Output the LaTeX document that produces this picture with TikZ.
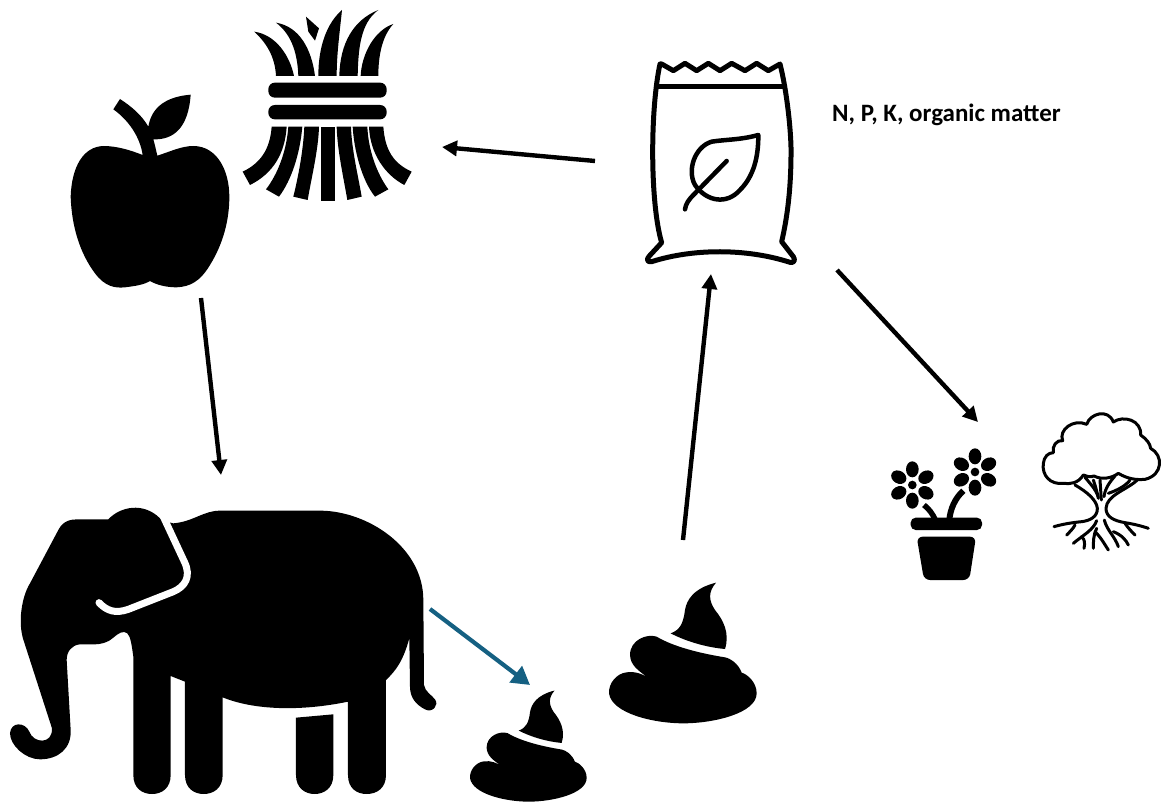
\documentclass[tikz,border=0pt]{standalone}
\usepackage{fontspec}
\setmainfont{Carlito}
\usetikzlibrary{arrows.meta}
\definecolor{arrowblue}{HTML}{156082}
\tikzset{
  icon/.style={fill=black,draw=none},
  flow/.style={line width=4.4pt,draw=black,-{Triangle[length=15pt,width=15pt]}},
  flowblue/.style={line width=4.2pt,draw=arrowblue,-{Triangle[length=18pt,width=20pt]}},
  bagline/.style={draw=black,line width=5pt,line join=round,line cap=round},
  leafline/.style={draw=black,line width=4.5pt,line join=round,line cap=round},
  treeline/.style={draw=black,line width=3pt,line join=round,line cap=round},
  gapline/.style={draw=white,line width=7pt,line cap=round,line join=round},
}
\newcommand{\poopshape}{%
  \fill (768,38) .. controls (700,55) and (680,90) .. (675,120) .. controls (670,160) and (660,180) .. (632,190)
    .. controls (680,215) and (740,232) .. (795,237) .. controls (810,190) and (790,150) .. (765,120)
    .. controls (745,90) and (745,65) .. (768,38) -- cycle;
  \fill (590,200) .. controls (560,190) and (510,210) .. (510,255) .. controls (512,285) and (530,300) .. (575,330)
    .. controls (550,312) and (525,303) .. (500,307) .. controls (470,310) and (445,340) .. (447,370)
    .. controls (455,430) and (580,460) .. (670,460) .. controls (760,460) and (890,430) .. (890,370)
    .. controls (890,335) and (860,312) .. (845,308) .. controls (835,280) and (810,265) .. (795,262)
    .. controls (720,250) and (640,230) .. (590,200) -- cycle;
}
\begin{document}
\begin{tikzpicture}[x=1pt,y=-1pt]
\useasboundingbox (0,0) rectangle (1162,805);

% Apple and wheat
\begin{scope}[shift={(60,0)},scale=1/3]
  \fill (248,465) .. controls (210,450) and (170,438) .. (130,438)
    .. controls (70,440) and (35,500) .. (32,590)
    .. controls (35,680) and (60,760) .. (105,820)
    .. controls (135,860) and (165,865) .. (195,862)
    .. controls (225,858) and (250,855) .. (270,843)
    .. controls (290,855) and (320,862) .. (350,862)
    .. controls (390,860) and (420,845) .. (450,795)
    .. controls (490,730) and (508,660) .. (508,590)
    .. controls (508,510) and (470,438) .. (400,438)
    .. controls (365,438) and (330,455) .. (292,467)
    .. controls (288,450) and (285,435) .. (280,418)
    .. controls (340,420) and (385,385) .. (392,284)
    .. controls (320,290) and (275,320) .. (265,380)
    .. controls (245,345) and (215,320) .. (180,297)
    -- (160,328)
    .. controls (205,360) and (240,410) .. (248,465) -- cycle;
  % blades
  \fill (583,95) .. controls (650,105) and (690,170) .. (702,228) -- (648,228) .. controls (645,170) and (620,130) .. (583,95) -- cycle;
  \fill (648,68) .. controls (720,80) and (755,150) .. (765,228) -- (715,228) .. controls (712,150) and (690,100) .. (648,68) -- cycle;
  \fill (738,50) -- (777,85) -- (765,122) -- (745,95) -- cycle;
  \fill (846,30) .. controls (840,90) and (830,160) .. (830,228) -- (775,228) .. controls (775,140) and (800,70) .. (846,30) -- cycle;
  \fill (955,30) .. controls (900,70) and (895,150) .. (893,228) -- (838,228) .. controls (840,130) and (880,60) .. (955,30) -- cycle;
  \fill (1000,72) .. controls (965,110) and (955,170) .. (955,228) -- (902,228) .. controls (905,160) and (945,90) .. (1000,72) -- cycle;
  \fill[rounded corners=6.5pt] (625,248) rectangle (980,293);
  \fill[rounded corners=6.5pt] (625,315) rectangle (980,358);
  % strands
  \fill (635,380) -- (680,380) .. controls (675,460) and (640,520) .. (570,555) -- (548,515) .. controls (600,490) and (630,450) .. (635,380) -- cycle;
  \fill (685,380) -- (727,380) .. controls (720,460) and (695,540) .. (657,590) -- (618,568) .. controls (655,520) and (680,450) .. (685,380) -- cycle;
  \fill (733,380) -- (777,380) .. controls (775,450) and (755,530) .. (743,600) -- (700,590) .. controls (715,530) and (730,450) .. (733,380) -- cycle;
  \fill (782,380) -- (825,380) -- (825,602) -- (782,602) -- cycle;
  \fill (830,380) -- (873,380) .. controls (875,450) and (895,530) .. (905,590) -- (862,600) .. controls (850,530) and (832,450) .. (830,380) -- cycle;
  \fill (878,380) -- (922,380) .. controls (925,450) and (950,520) .. (985,568) -- (945,590) .. controls (905,540) and (882,450) .. (878,380) -- cycle;
  \fill (927,380) -- (970,380) .. controls (975,450) and (1000,490) .. (1055,515) -- (1033,555) .. controls (975,525) and (930,460) .. (927,380) -- cycle;
\end{scope}

% Elephant
\begin{scope}[shift={(0,490)},scale=1/3]
  \fill (500,95) -- (520,100) .. controls (580,95) and (610,62) .. (660,62) -- (960,62)
    .. controls (1100,62) and (1270,170) .. (1270,330) -- (1272,585)
    .. controls (1275,605) and (1295,615) .. (1305,628)
    .. controls (1318,645) and (1298,670) .. (1275,658)
    .. controls (1250,645) and (1230,625) .. (1230,590) -- (1228,445)
    .. controls (1210,510) and (1190,540) .. (1158,570) -- (1158,855)
    .. controls (1158,895) and (1130,912) .. (1100,912) .. controls (1070,912) and (1044,895) .. (1044,855)
    -- (1044,635) .. controls (900,665) and (760,660) .. (668,622) -- (668,855)
    .. controls (668,895) and (640,912) .. (611,912) .. controls (582,912) and (555,895) .. (555,855)
    -- (555,575) -- (512,558) -- (512,855)
    .. controls (512,895) and (485,912) .. (456,912) .. controls (427,912) and (400,895) .. (400,855)
    -- (400,500) .. controls (395,465) and (392,440) .. (382,430) .. controls (370,420) and (355,430) .. (340,443)
    .. controls (325,458) and (300,463) .. (285,463) -- (240,463)
    .. controls (215,465) and (200,485) .. (200,510) -- (212,720)
    .. controls (215,775) and (175,808) .. (120,808)
    .. controls (75,808) and (30,765) .. (30,730)
    .. controls (32,695) and (75,695) .. (88,725)
    .. controls (100,760) and (158,765) .. (156,715)
    -- (72,455) .. controls (52,400) and (65,320) .. (90,280) -- (175,120)
    .. controls (190,90) and (215,88) .. (235,88) -- (325,88)
    .. controls (360,50) and (430,35) .. (480,85) -- cycle;
  \fill (888,683) -- (1000,673) -- (1000,855) .. controls (1000,895) and (972,912) .. (944,912) .. controls (916,912) and (888,895) .. (888,855) -- cycle;
  \draw[gapline] (490,80) -- (553,215) .. controls (575,260) and (555,290) .. (520,305) -- (385,358) .. controls (345,372) and (320,362) .. (297,338);
\end{scope}

% Small dropping and large dropping
\begin{scope}[shift={(460,570)},scale=1/3]
  \poopshape
  \begin{scope}[shift={(-323.1,331.6)},scale=.79]
    \poopshape
  \end{scope}
\end{scope}

% Fertiliser bag
\begin{scope}[shift={(630,50)},scale=1/3]
  \draw[bagline] (95,42) -- (130,62) -- (165,40) -- (200,62) -- (235,40) -- (270,62) -- (305,40) -- (345,62) -- (380,40) -- (415,62) -- (450,42)
    .. controls (470,120) and (485,250) .. (483,320) .. controls (482,430) and (470,510) .. (455,575)
    -- (490,620) .. controls (497,630) and (492,640) .. (480,637)
    .. controls (350,595) and (190,595) .. (65,635) .. controls (52,638) and (48,628) .. (58,618)
    -- (95,578) .. controls (60,460) and (60,180) .. (90,42) -- cycle;
  \draw[bagline] (85,110) -- (462,110);
  \draw[leafline] (385,255) .. controls (330,270) and (290,268) .. (245,275) .. controls (195,290) and (170,360) .. (195,405)
    .. controls (230,455) and (290,465) .. (330,420) .. controls (380,370) and (385,300) .. (385,255) -- cycle;
  \draw[leafline] (290,333) -- (195,430) .. controls (175,450) and (168,460) .. (165,478);
\end{scope}

% Flower pot and tree
\begin{scope}[shift={(880,400)},scale=1/3]
  \foreach \cx/\cy in {97/255,285/216}{
    \fill (\cx,\cy) circle[radius=13];
    \foreach \a in {0,60,120,180,240,300}{
      \begin{scope}[shift={(\cx,\cy)},rotate=\a]
        \fill (0,-47) ellipse[x radius=19,y radius=24];
      \end{scope}
    }
  }
  \draw[line width=5.5pt] (132,315) .. controls (148,328) and (158,342) .. (165,358);
  \draw[line width=6pt] (250,272) .. controls (225,295) and (212,325) .. (208,358);
  \fill[rounded corners=5pt] (92,390) -- (92,353) -- (306,353) -- (306,390) -- cycle;
  \fill[rounded corners=6pt] (110,410) -- (288,410) -- (268,540) -- (132,540) -- cycle;
  \draw[treeline] (550,250) .. controls (510,255) and (485,225) .. (490,190) .. controls (492,170) and (505,158) .. (520,158)
    .. controls (515,140) and (530,118) .. (548,122) .. controls (535,90) and (580,55) .. (620,73)
    .. controls (630,40) and (685,25) .. (700,66) .. controls (730,45) and (785,60) .. (782,105)
    .. controls (800,118) and (810,130) .. (812,145) .. controls (850,165) and (850,225) .. (795,238)
    .. controls (770,240) and (745,238) .. (715,220) .. controls (695,235) and (665,240) .. (642,228)
    .. controls (630,232) and (620,230) .. (610,225) .. controls (595,250) and (570,253) .. (550,250);
  \draw[treeline] (585,255) .. controls (620,275) and (650,300) .. (652,325) .. controls (653,350) and (630,362) .. (605,365) .. controls (575,368) and (550,372) .. (522,380);
  \draw[treeline] (772,240) .. controls (740,270) and (680,285) .. (678,325) .. controls (678,350) and (700,362) .. (735,368) .. controls (760,372) and (785,378) .. (805,385);
  \draw[treeline] (615,232) .. controls (630,250) and (645,265) .. (655,290);
  \draw[treeline] (640,240) .. controls (645,255) and (650,270) .. (655,295);
  \draw[treeline] (672,290) .. controls (675,265) and (690,245) .. (705,228);
  \draw[treeline] (685,280) .. controls (715,270) and (740,255) .. (750,240);
  \draw[treeline] (660,240) -- (664,300);
  \draw[treeline] (650,362) .. controls (640,390) and (610,405) .. (580,430);
  \draw[treeline] (605,410) .. controls (615,420) and (615,430) .. (612,445);
  \draw[treeline] (650,385) .. controls (640,405) and (640,425) .. (640,445);
  \draw[treeline] (645,395) .. controls (665,415) and (675,435) .. (685,450);
  \draw[treeline] (673,360) .. controls (680,390) and (705,410) .. (715,440);
  \draw[treeline] (700,395) .. controls (725,405) and (738,420) .. (745,435);
  \draw[treeline] (735,370) .. controls (745,385) and (755,395) .. (765,405);
  \draw[treeline] (585,375) .. controls (580,385) and (570,395) .. (560,405);
\end{scope}

% Connector ends
\coordinate (bagL) at (595,161);
\coordinate (wheatR) at (442,147);
\coordinate (appleB) at (201,298);
\coordinate (elephantT) at (221,475);
\coordinate (dungT) at (683,540);
\coordinate (bagB) at (711,274);
\coordinate (bagR) at (837,270);
\coordinate (plantsT) at (978,422);
\coordinate (elephantR) at (430,609);
\coordinate (smallT) at (530,685);

\draw[flow] (bagL) -- (wheatR);
\draw[flow] (appleB) -- (elephantT);
\draw[flow] (dungT) -- (bagB);
\draw[flow] (bagR) -- (plantsT);
\draw[flowblue] (elephantR) -- (smallT);

\node[anchor=base west,inner sep=0pt,font=\bfseries\fontsize{25}{30}\selectfont] (npk) at (832,122) {N, P, K, organic matter};
\end{tikzpicture}
\end{document}
